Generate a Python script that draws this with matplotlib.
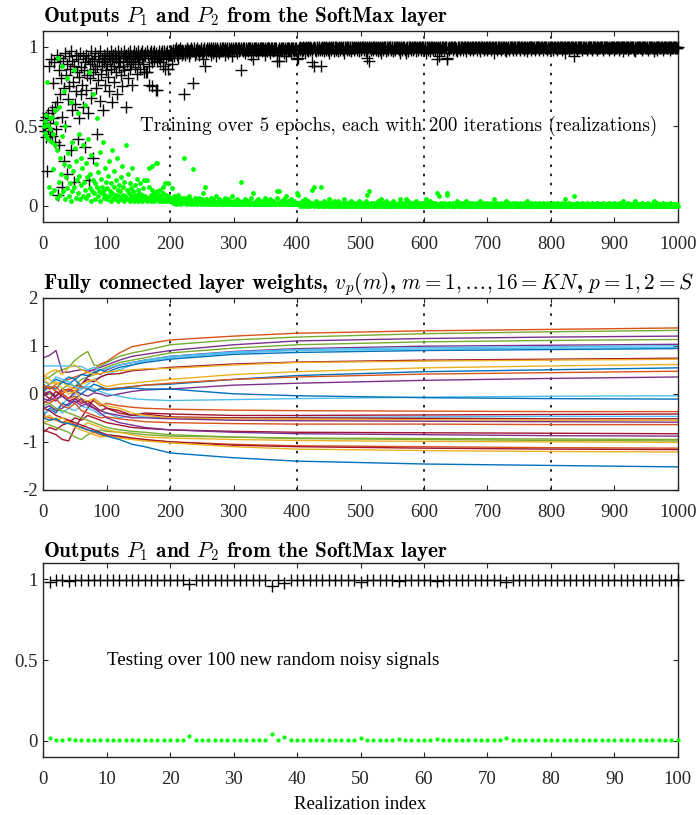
import matplotlib.pyplot as plt
import numpy as np

# ---------------------------------------------------------------------------
# Data
# ---------------------------------------------------------------------------

# SoftMax output P2 during training, in percent, one value per iteration.
# (two-class SoftMax: P1 = 1 - P2)
p2_epoch1 = [
    50, 46, 53, 44, 57, 78, 51, 42, 12, 48, 55, 8, 40, 56, 23, 45, 10, 60, 38, 52,
    5, 35, 93, 15, 62, 7, 30, 20, 88, 44, 9, 72, 26, 4, 50, 18, 80, 11, 33, 6,
    25, 14, 65, 3, 40, 9, 22, 85, 12, 36, 5, 28, 16, 58, 8, 45, 19, 4, 30, 13,
    24, 6, 38, 15, 63, 10, 27, 5, 18, 42, 7, 84, 20, 11, 3, 32, 9, 16, 70, 8,
    14, 4, 26, 12, 55, 6, 21, 9, 34, 3, 17, 8, 12, 40, 5, 10, 24, 7, 15, 4,
    11, 19, 6, 28, 9, 3, 14, 35, 8, 5, 22, 12, 4, 16, 7, 30, 10, 3, 13, 6,
    9, 18, 4, 25, 7, 12, 3, 15, 6, 38, 5, 10, 20, 4, 8, 14, 3, 11, 6, 24,
    5, 9, 3, 13, 7, 4, 17, 6, 10, 3, 8, 5, 14, 4, 7, 3, 11, 5, 16, 4,
    6, 16, 3, 16, 5, 12, 24, 4, 7, 3, 10, 25, 4, 8, 3, 6, 27, 4, 9, 27,
    5, 7, 3, 10, 4, 6, 3, 8, 12, 4, 3, 14, 4, 7, 3, 6, 14, 5, 3, 5,
]
p2_epoch2 = [
    3, 5, 11, 2, 4, 6, 2, 3, 1, 5, 3, 2, 7, 2, 4, 1, 3, 5, 2, 4,
    3, 30, 2, 5, 3, 1, 4, 2, 6, 3, 2, 4, 1, 3, 2, 23, 3, 1, 5, 2,
    4, 2, 1, 3, 5, 2, 3, 1, 2, 4, 8, 2, 3, 1, 12, 2, 4, 1, 3, 2,
    1, 3, 2, 5, 1, 2, 4, 1, 3, 2, 1, 6, 2, 1, 3, 2, 4, 1, 2, 3,
    2, 1, 3, 1, 2, 5, 1, 2, 3, 1, 4, 2, 1, 2, 3, 1, 2, 6, 1, 2,
    3, 1, 2, 1, 4, 2, 1, 3, 1, 2, 15, 1, 2, 3, 1, 2, 1, 4, 2, 1,
    2, 1, 3, 1, 2, 1, 5, 2, 1, 2, 8, 1, 2, 1, 3, 1, 2, 1, 4, 2,
    1, 2, 1, 3, 1, 2, 1, 2, 5, 1, 2, 1, 3, 1, 2, 1, 2, 4, 1, 2,
    1, 3, 1, 2, 1, 2, 1, 5, 9, 2, 9, 1, 2, 1, 3, 1, 2, 1, 2, 4,
    1, 6, 2, 1, 3, 1, 2, 1, 2, 1, 4, 1, 2, 1, 3, 1, 2, 1, 2, 8,
]
p2_epoch3 = [
    2, 7, 1, 0, 2, 1, 3, 1, 0, 2, 1, 4, 1, 0, 2, 1, 0, 3, 1, 2,
    0, 1, 2, 10, 1, 12, 0, 2, 1, 3, 0, 1, 2, 1, 0, 2, 12, 1, 0, 2,
    1, 0, 3, 1, 2, 0, 1, 2, 1, 0, 4, 1, 0, 2, 1, 0, 1, 3, 0, 1,
    2, 0, 1, 1, 3, 0, 1, 2, 0, 1, 1, 0, 2, 4, 1, 0, 1, 2, 0, 1,
    0, 2, 1, 0, 3, 1, 0, 1, 2, 0, 1, 1, 0, 2, 1, 0, 3, 1, 0, 1,
    2, 0, 1, 0, 2, 1, 0, 3, 1, 0, 7, 1, 9, 0, 1, 2, 0, 1, 0, 2,
    1, 0, 1, 2, 0, 1, 3, 0, 1, 0, 2, 4, 1, 0, 1, 2, 0, 1, 0, 3,
    1, 0, 2, 1, 0, 1, 0, 2, 1, 0, 3, 1, 0, 1, 2, 0, 1, 0, 1, 2,
    0, 1, 4, 0, 1, 2, 0, 1, 0, 2, 4, 1, 0, 1, 3, 0, 1, 0, 2, 1,
    0, 1, 2, 0, 1, 0, 3, 1, 0, 1, 2, 0, 1, 0, 1, 2, 0, 1, 0, 2,
]
p2_epoch4 = [
    1, 0, 4, 1, 0, 2, 1, 0, 1, 3, 0, 1, 0, 2, 1, 0, 1, 2, 0, 1,
    8, 0, 1, 6, 0, 1, 2, 0, 1, 0, 2, 1, 0, 1, 0, 8, 7, 1, 0, 2,
    1, 0, 1, 0, 2, 1, 0, 1, 0, 2, 1, 3, 0, 1, 0, 1, 2, 0, 1, 0,
    2, 1, 0, 1, 0, 3, 1, 0, 1, 0, 1, 2, 0, 1, 0, 1, 0, 2, 1, 0,
    1, 0, 2, 1, 0, 1, 0, 1, 3, 0, 1, 0, 1, 2, 0, 1, 0, 1, 0, 2,
    1, 0, 1, 0, 2, 1, 0, 1, 0, 1, 4, 0, 1, 0, 2, 1, 0, 1, 0, 1,
    2, 0, 1, 0, 1, 0, 2, 1, 3, 0, 1, 0, 1, 2, 0, 1, 0, 1, 0, 2,
    1, 0, 1, 0, 2, 0, 1, 0, 1, 0, 2, 1, 0, 1, 0, 1, 0, 2, 1, 0,
    1, 0, 3, 1, 0, 1, 0, 2, 0, 1, 0, 1, 0, 1, 2, 0, 1, 0, 1, 0,
    2, 0, 1, 0, 1, 0, 1, 2, 0, 1, 0, 1, 0, 2, 1, 0, 1, 0, 1, 0,
]
p2_epoch5 = [
    1, 0, 1, 2, 0, 1, 0, 1, 0, 2, 1, 0, 1, 0, 1, 0, 2, 0, 1, 0,
    1, 0, 4, 1, 0, 1, 0, 2, 0, 1, 0, 1, 0, 1, 0, 6, 1, 0, 1, 0,
    2, 0, 1, 0, 1, 0, 1, 0, 2, 1, 0, 1, 0, 1, 0, 1, 2, 0, 1, 0,
    1, 0, 1, 0, 2, 0, 1, 0, 1, 0, 1, 0, 2, 1, 0, 1, 0, 1, 0, 1,
    0, 2, 0, 1, 0, 1, 0, 1, 0, 1, 2, 0, 1, 0, 1, 0, 1, 0, 2, 0,
    1, 0, 1, 0, 1, 0, 2, 0, 1, 0, 1, 0, 3, 0, 1, 0, 1, 0, 1, 0,
    2, 0, 1, 0, 1, 0, 1, 0, 1, 0, 2, 3, 0, 1, 0, 1, 0, 1, 0, 1,
    0, 1, 0, 2, 0, 1, 0, 1, 0, 1, 0, 1, 2, 0, 1, 0, 1, 0, 1, 0,
    1, 3, 0, 1, 0, 1, 0, 2, 0, 1, 0, 1, 0, 1, 0, 1, 2, 0, 1, 0,
    1, 0, 1, 0, 1, 0, 2, 0, 1, 0, 1, 0, 1, 0, 1, 0, 1, 0, 1, 0,
]

# SoftMax output P2 on 100 test signals, in percent
p2_test = [
    1.5, 0.3, 0.2, 0.8, 0.2, 0.2, 0.3, 0.2, 0.2, 0.1,
    0.2, 0.2, 0.1, 0.2, 0.2, 0.1, 0.2, 0.2, 0.1, 0.2,
    0.2, 0.1, 3.0, 0.2, 0.2, 0.1, 0.2, 0.2, 0.1, 0.2,
    0.2, 0.1, 0.2, 0.2, 0.1, 4.0, 0.3, 2.5, 0.2, 0.1,
    0.2, 0.2, 0.1, 0.2, 0.2, 0.1, 0.2, 0.2, 0.1, 1.5,
    0.2, 0.1, 0.2, 0.2, 0.1, 1.0, 0.2, 0.1, 0.2, 0.2,
    0.1, 0.8, 0.2, 0.1, 0.2, 0.2, 0.1, 0.2, 0.2, 0.1,
    0.2, 0.2, 1.5, 0.2, 0.1, 0.2, 0.2, 0.1, 0.2, 0.2,
    0.1, 0.2, 0.2, 0.1, 0.2, 0.2, 0.1, 0.5, 0.2, 0.2,
    0.1, 0.2, 0.2, 0.1, 0.2, 0.2, 0.1, 0.2, 0.2, 0.1,
]

epoch_bounds = [200, 400, 600, 800]

# Fully connected layer weights, sampled at these iterations
weight_iters = [0, 10, 20, 30, 40, 50, 60, 70, 80, 90, 100, 120, 140, 160, 200, 300, 400, 600, 800, 1000]

w01 = [0.15, 0.10, 0.20, 0.25, 0.30, 0.35, 0.40, 0.45, 0.50, 0.62, 0.67, 0.85, 0.98, 1.03, 1.12, 1.20, 1.26, 1.31, 1.34, 1.37]
w02 = [0.30, 0.35, 0.45, 0.50, 0.55, 0.70, 0.80, 0.88, 0.60, 0.58, 0.65, 0.78, 0.85, 0.90, 1.02, 1.12, 1.18, 1.25, 1.29, 1.32]
w03 = [0.75, 0.80, 0.90, 0.45, 0.45, 0.48, 0.50, 0.47, 0.50, 0.55, 0.60, 0.70, 0.78, 0.82, 0.90, 1.02, 1.10, 1.15, 1.18, 1.20]
w04 = [0.05, 0.00, -0.05, 0.10, 0.20, 0.15, 0.30, 0.35, 0.40, 0.50, 0.55, 0.65, 0.70, 0.75, 0.85, 0.95, 1.02, 1.08, 1.11, 1.13]
w05 = [-0.10, -0.15, -0.05, 0.05, 0.10, 0.00, 0.20, 0.35, 0.45, 0.40, 0.50, 0.60, 0.65, 0.70, 0.78, 0.88, 0.94, 0.99, 1.01, 1.03]
w06 = [0.58, 0.58, 0.58, 0.58, 0.58, 0.57, 0.57, 0.50, 0.55, 0.50, 0.52, 0.60, 0.65, 0.70, 0.78, 0.87, 0.92, 0.96, 0.98, 1.00]
w07 = [-0.30, -0.25, -0.35, -0.20, -0.10, 0.00, 0.10, 0.20, 0.30, 0.35, 0.40, 0.50, 0.60, 0.68, 0.75, 0.85, 0.90, 0.93, 0.95, 0.96]
w08 = [0.10, 0.20, 0.30, 0.25, 0.35, 0.30, 0.40, 0.38, 0.45, 0.50, 0.45, 0.55, 0.60, 0.65, 0.72, 0.82, 0.86, 0.90, 0.92, 0.94]
w09 = [0.00, 0.05, -0.05, 0.10, 0.05, 0.15, 0.20, 0.30, 0.25, 0.35, 0.40, 0.42, 0.48, 0.50, 0.55, 0.62, 0.66, 0.70, 0.72, 0.74]
w10 = [0.35, 0.45, 0.50, 0.40, 0.55, 0.60, 0.50, 0.45, 0.40, 0.42, 0.45, 0.48, 0.50, 0.52, 0.53, 0.60, 0.65, 0.68, 0.70, 0.72]
w11 = [0.40, 0.30, 0.20, 0.25, 0.15, 0.10, 0.20, 0.25, 0.30, 0.20, 0.15, 0.20, 0.22, 0.25, 0.30, 0.40, 0.46, 0.54, 0.58, 0.61]
w12 = [0.05, 0.15, 0.10, 0.25, 0.20, 0.30, 0.15, 0.10, 0.20, 0.15, 0.10, 0.12, 0.15, 0.18, 0.20, 0.30, 0.38, 0.46, 0.50, 0.54]
w13 = [0.20, 0.10, 0.15, 0.00, 0.10, 0.05, 0.15, 0.10, 0.05, 0.12, 0.10, 0.12, 0.15, 0.18, 0.22, 0.30, 0.35, 0.41, 0.44, 0.47]
w14 = [-0.20, -0.10, -0.15, 0.00, -0.10, 0.05, 0.00, -0.05, 0.02, 0.00, -0.05, 0.00, 0.05, 0.08, 0.10, 0.18, 0.22, 0.28, 0.32, 0.35]
w15 = [0.25, 0.20, 0.35, 0.30, 0.25, 0.15, 0.10, 0.15, 0.10, 0.05, 0.00, -0.05, -0.10, -0.12, -0.14, -0.12, -0.10, -0.07, -0.05, -0.04]
w16 = [-0.45, -0.30, -0.40, -0.20, -0.25, -0.10, 0.00, 0.10, 0.05, 0.10, 0.08, 0.10, 0.12, 0.10, 0.10, 0.00, -0.04, -0.08, -0.10, -0.11]
w17 = [0.10, 0.15, 0.05, 0.00, -0.10, -0.05, -0.15, -0.20, -0.15, -0.25, -0.20, -0.25, -0.28, -0.30, -0.32, -0.34, -0.35, -0.36, -0.37, -0.37]
w18 = [-0.75, -0.80, -0.85, -0.95, -0.98, -0.70, -0.50, -0.30, -0.10, -0.20, -0.30, -0.35, -0.45, -0.40, -0.42, -0.45, -0.45, -0.44, -0.43, -0.42]
w19 = [-0.40, -0.35, -0.30, -0.40, -0.30, -0.35, -0.25, -0.30, -0.35, -0.45, -0.40, -0.50, -0.45, -0.48, -0.50, -0.50, -0.49, -0.48, -0.47, -0.47]
w20 = [0.00, -0.10, 0.05, -0.05, -0.15, -0.10, -0.20, -0.15, -0.25, -0.35, -0.30, -0.40, -0.45, -0.42, -0.48, -0.50, -0.50, -0.51, -0.52, -0.52]
w21 = [0.30, 0.20, 0.25, 0.10, 0.00, 0.05, -0.10, -0.15, -0.10, -0.20, -0.25, -0.30, -0.40, -0.45, -0.50, -0.52, -0.53, -0.54, -0.55, -0.55]
w22 = [-0.05, 0.05, -0.10, -0.05, -0.15, -0.20, -0.10, -0.25, -0.30, -0.35, -0.40, -0.45, -0.50, -0.50, -0.52, -0.55, -0.56, -0.57, -0.58, -0.59]
w23 = [-0.15, -0.20, -0.10, -0.25, -0.30, -0.20, -0.35, -0.40, -0.45, -0.50, -0.48, -0.52, -0.55, -0.58, -0.60, -0.62, -0.63, -0.63, -0.64, -0.64]
w24 = [-0.80, -0.70, -0.75, -0.65, -0.60, -0.50, -0.55, -0.45, -0.50, -0.55, -0.60, -0.65, -0.70, -0.72, -0.75, -0.78, -0.80, -0.81, -0.82, -0.83]
w25 = [-0.30, -0.25, -0.35, -0.30, -0.20, -0.15, -0.25, -0.20, -0.30, -0.40, -0.50, -0.60, -0.65, -0.70, -0.75, -0.80, -0.83, -0.85, -0.87, -0.88]
w26 = [-0.60, -0.65, -0.70, -0.75, -0.80, -0.90, -0.95, -0.85, -0.80, -0.75, -0.78, -0.80, -0.82, -0.85, -0.88, -0.90, -0.92, -0.93, -0.94, -0.95]
w27 = [-0.25, -0.20, -0.30, -0.35, -0.40, -0.45, -0.50, -0.55, -0.60, -0.65, -0.70, -0.75, -0.78, -0.80, -0.85, -0.90, -0.93, -0.95, -0.97, -0.98]
w28 = [-0.60, -0.55, -0.50, -0.60, -0.55, -0.65, -0.70, -0.60, -0.65, -0.70, -0.75, -0.80, -0.85, -0.90, -0.92, -0.95, -0.97, -0.99, -1.00, -1.01]
w29 = [-0.45, -0.50, -0.55, -0.60, -0.55, -0.65, -0.70, -0.75, -0.80, -0.85, -0.88, -0.90, -0.93, -0.96, -1.00, -1.05, -1.08, -1.10, -1.12, -1.13]
w30 = [-0.30, -0.35, -0.45, -0.50, -0.55, -0.60, -0.65, -0.70, -0.75, -0.80, -0.85, -0.88, -0.92, -0.95, -1.00, -1.07, -1.10, -1.13, -1.15, -1.16]
w31 = [-0.50, -0.45, -0.55, -0.50, -0.60, -0.70, -0.75, -0.80, -0.85, -0.90, -0.88, -0.92, -0.95, -0.98, -1.02, -1.10, -1.15, -1.18, -1.20, -1.21]
w32 = [-0.50, -0.55, -0.52, -0.60, -0.62, -0.65, -0.70, -0.75, -0.78, -0.82, -0.88, -0.95, -1.05, -1.10, -1.23, -1.33, -1.40, -1.46, -1.49, -1.52]

weight_traces = [w01, w02, w03, w04, w05, w06, w07, w08, w09, w10, w11, w12, w13, w14, w15, w16,
                 w17, w18, w19, w20, w21, w22, w23, w24, w25, w26, w27, w28, w29, w30, w31, w32]

# MATLAB default line colours
BLUE, ORANGE, YELLOW, PURPLE = "#0072BD", "#D95319", "#EDB120", "#7E2F8E"
GREEN, LIGHTBLUE, RED = "#77AC30", "#4DBEEE", "#A2142F"
trace_colors = [ORANGE, GREEN, PURPLE, GREEN, PURPLE, LIGHTBLUE, LIGHTBLUE, BLUE,
                RED, YELLOW, YELLOW, BLUE, ORANGE, PURPLE, LIGHTBLUE, BLUE,
                ORANGE, RED, LIGHTBLUE, RED, YELLOW, PURPLE, ORANGE, RED,
                PURPLE, GREEN, GREEN, YELLOW, ORANGE, RED, YELLOW, BLUE]

# ---------------------------------------------------------------------------
# Style
# ---------------------------------------------------------------------------
plt.rcParams.update({
    "font.family": ["Liberation Serif", "DejaVu Serif"],
    "mathtext.fontset": "cm",
    "axes.unicode_minus": False,
    "axes.linewidth": 1.0,
    "axes.edgecolor": "#262626",
    "xtick.direction": "in",
    "ytick.direction": "in",
    "xtick.top": True,
    "ytick.right": True,
    "xtick.major.size": 3.8,
    "ytick.major.size": 3.8,
    "xtick.major.width": 0.8,
    "ytick.major.width": 0.8,
    "xtick.labelsize": 13.5,
    "ytick.labelsize": 13.5,
    "xtick.color": "#262626",
    "ytick.color": "#262626",
    "xtick.major.pad": 10,
    "ytick.major.pad": 4,
})

DOT_GREEN = "#00FF00"
title_kw = dict(loc="left", fontfamily="cmb10", fontsize=15.3)


def style_axes(ax, xmax, xstep, ylim, yticks):
    ax.set_xlim(0, xmax)
    ax.set_xticks(np.arange(0, xmax + 1, xstep))
    ax.set_ylim(*ylim)
    ax.set_yticks(yticks)
    ax.set_yticklabels([f"{t:g}" for t in yticks])


def draw_epoch_lines(ax):
    for xb in epoch_bounds:
        ax.axvline(xb, color="black", lw=1.2, ls=(0, (1.5, 4)), zorder=1)


fig = plt.figure(figsize=(6.98, 8.15), dpi=100)

# --- Panel 1: training outputs -------------------------------------------
p2_train = np.concatenate([p2_epoch1, p2_epoch2, p2_epoch3, p2_epoch4, p2_epoch5]) / 100.0
p1_train = 1.0 - p2_train
it_train = np.arange(1, len(p2_train) + 1)

ax1 = fig.add_axes([0.062, 0.728, 0.909, 0.2344])
draw_epoch_lines(ax1)
ax1.plot(it_train, p1_train, "+", color="black", ms=8.5, mew=1.0, clip_on=False, zorder=3)
ax1.plot(it_train, p2_train, "o", color=DOT_GREEN, ms=3.5, mec="none", clip_on=False, zorder=4)
style_axes(ax1, 1000, 100, (-0.1, 1.1), [0, 0.5, 1])
ax1.text(153, 0.5, "Training over 5 epochs, each with 200 iterations (realizations)",
         fontfamily="cmr10", fontsize=13.7, ha="left", va="center", zorder=5)
ax1.set_title(r"Outputs $P_1$ and $P_2$ from the SoftMax layer", pad=6.0, **title_kw)

# --- Panel 2: fully connected layer weights --------------------------------
ax2 = fig.add_axes([0.062, 0.3988, 0.909, 0.236])
draw_epoch_lines(ax2)
for trace, color in zip(weight_traces, trace_colors):
    ax2.plot(weight_iters, trace, color=color, lw=1.0, zorder=2)
style_axes(ax2, 1000, 100, (-2, 2), [-2, -1, 0, 1, 2])
ax2.set_title(r"Fully connected layer weights, $v_p(m)$, $m=1,\ldots,16=KN$, $p=1,2=S$",
              pad=6.0, **title_kw)

# --- Panel 3: testing outputs ---------------------------------------------
p2_t = np.array(p2_test) / 100.0
p1_t = 1.0 - p2_t
it_test = np.arange(1, len(p2_t) + 1)

ax3 = fig.add_axes([0.062, 0.0715, 0.909, 0.2373])
ax3.plot(it_test, p1_t, "+", color="black", ms=8.5, mew=1.0, clip_on=False, zorder=3)
ax3.plot(it_test, p2_t, "o", color=DOT_GREEN, ms=3.0, mec="none", clip_on=False, zorder=4)
style_axes(ax3, 100, 10, (-0.1, 1.1), [0, 0.5, 1])
ax3.text(10.1, 0.5, "Testing over 100 new random noisy signals",
         fontsize=13.8, ha="left", va="center")
ax3.set_title(r"Outputs $P_1$ and $P_2$ from the SoftMax layer", pad=4.5, **title_kw)
ax3.set_xlabel("Realization index", fontsize=13.5, labelpad=6)

fig.savefig("out.png", dpi=100)
